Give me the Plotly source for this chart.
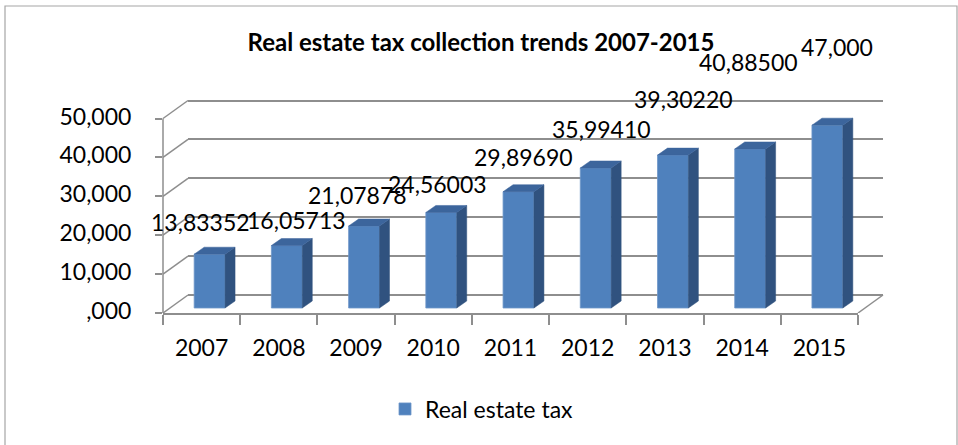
import plotly.graph_objects as go

# ---- data ----
years = ["2007", "2008", "2009", "2010", "2011", "2012", "2013", "2014", "2015"]
tax_collected = [13.83352, 16.05713, 21.07878, 24.56003, 29.89690,
                 35.99410, 39.30220, 40.88500, 47.000]
label_decimals = [5, 5, 5, 5, 5, 5, 5, 5, 3]
axis_ticks = [0, 10, 20, 30, 40, 50]
axis_tick_text = [",000", "10,000", "20,000", "30,000", "40,000", "50,000"]
series_name = "Real estate tax"
chart_title = "Real estate tax collection trends 2007-2015"


def decimal_comma(value, decimals):
    return f"{value:.{decimals}f}".replace(".", ",")


# ---- pseudo-3D geometry (pixels) ----
W, H = 958, 445
FRONT_X0, FRONT_X1, FRONT_BASE = 163, 858, 313
UNIT_PX = 3.89              # pixels per value unit
Y_TOP = 56
WALL_DX, WALL_DY = 25, 18   # back wall offset from the front plane
BAR_DX, BAR_DY = 8, 5       # bar plane offset from the front plane
FACE_DX, FACE_DY = 10, 7    # depth of each column
BAR_WIDTH = 0.40

# value-label nudges (px right, px up) from each column top
LABEL_SHIFTS = [(-9, 32), (10, 26), (-7, 31), (-4, 28), (5, 35),
                (6, 39), (11, 56), (-2, 87), (10, 78)]

FONT = "Lato"
GRID = "#8e8e8e"
FRONT_COLOR = "#4f81bd"
SIDE_COLOR = "#30527f"
TOP_COLOR = "#3c659c"

n = len(years)
cat_px = (FRONT_X1 - FRONT_X0) / n


def xdom(shift):
    return [(FRONT_X0 + shift) / W, (FRONT_X1 + shift) / W]


def ydom(lift, y_min):
    base = FRONT_BASE - lift
    return [1 - (base - y_min * UNIT_PX) / H, 1 - (base - Y_TOP * UNIT_PX) / H]


fig = go.Figure()

# front plane: category axis + value axis labels
fig.add_trace(go.Scatter(
    x=years, y=tax_collected, mode="markers", marker=dict(opacity=0),
    showlegend=False, hoverinfo="skip", xaxis="x", yaxis="y"))

# back wall plane carries the gridlines (x2/y2)
fig.add_trace(go.Scatter(
    x=[0], y=[0], mode="markers", marker=dict(opacity=0),
    showlegend=False, hoverinfo="skip", xaxis="x2", yaxis="y2"))

# bar plane (x3/y3)
idx = list(range(n))
fdx = FACE_DX / cat_px
fdy = FACE_DY / UNIT_PX
side_x, side_y, top_x, top_y = [], [], [], []
for i, v in zip(idx, tax_collected):
    l, r = i - BAR_WIDTH / 2, i + BAR_WIDTH / 2
    side_x += [r, r + fdx, r + fdx, r, r, None]
    side_y += [0, fdy, v + fdy, v, 0, None]
    top_x += [l, r, r + fdx, l + fdx, l, None]
    top_y += [v, v, v + fdy, v + fdy, v, None]

fig.add_trace(go.Bar(
    x=idx, y=tax_collected, width=BAR_WIDTH, name=series_name,
    marker=dict(color=FRONT_COLOR, line=dict(color="#6f97c9", width=0.8)),
    xaxis="x3", yaxis="y3", hoverinfo="skip"))
fig.add_trace(go.Scatter(
    x=side_x, y=side_y, mode="lines", fill="toself", fillcolor=SIDE_COLOR,
    line=dict(color=SIDE_COLOR, width=0.5), showlegend=False,
    hoverinfo="skip", xaxis="x3", yaxis="y3"))
fig.add_trace(go.Scatter(
    x=top_x, y=top_y, mode="lines", fill="toself", fillcolor=TOP_COLOR,
    line=dict(color=TOP_COLOR, width=0.5), showlegend=False,
    hoverinfo="skip", xaxis="x3", yaxis="y3"))

# value labels
for i, (v, d, (sx, sy)) in enumerate(zip(tax_collected, label_decimals, LABEL_SHIFTS)):
    fig.add_annotation(
        x=i, y=v, xref="x3", yref="y3", text=decimal_comma(v, d),
        showarrow=False, xanchor="center", yanchor="middle",
        xshift=sx, yshift=sy, font=dict(family=FONT, size=23, color="#000"))

# wall / floor edges
shapes = [dict(type="line", xref="x domain", yref="y", x0=0, x1=0,
               y0=axis_ticks[0], y1=axis_ticks[-1],
               line=dict(color=GRID, width=1.5))]
wall_fx = WALL_DX / (FRONT_X1 - FRONT_X0)
wall_fy = WALL_DY / UNIT_PX
for t in axis_ticks:
    shapes.append(dict(type="line", xref="x domain", yref="y",
                       x0=0, x1=wall_fx, y0=t, y1=t + wall_fy,
                       line=dict(color=GRID, width=1.5)))
shapes.append(dict(type="line", xref="x domain", yref="y",
                   x0=1, x1=1 + wall_fx, y0=0, y1=wall_fy,
                   line=dict(color=GRID, width=1.5)))
shapes.append(dict(type="rect", xref="paper", yref="paper",
                   x0=5 / W, x1=957 / W, y0=-0.02, y1=1 - 6 / H,
                   line=dict(color="#a6a6a6", width=1.2)))

tick_font = dict(family=FONT, size=23, color="#000")

fig.update_layout(
    width=W, height=H,
    margin=dict(l=0, r=0, t=0, b=0, autoexpand=False),
    paper_bgcolor="white", plot_bgcolor="rgba(0,0,0,0)",
    hovermode=False,
    shapes=shapes,
    title=dict(text=f"<b>{chart_title}</b>", x=481 / W, xanchor="center",
               y=1 - 43 / H, yanchor="middle",
               font=dict(family=FONT, size=24, color="#000")),
    showlegend=True,
    legend=dict(orientation="h", x=385 / W, xanchor="left",
                y=1 - 409 / H, yanchor="middle",
                font=dict(family=FONT, size=23, color="#000"),
                bgcolor="rgba(0,0,0,0)"),
    xaxis=dict(type="category", categoryorder="array", categoryarray=years,
               range=[-0.5, n - 0.5], domain=xdom(0), anchor="y",
               showline=True, linecolor=GRID, linewidth=1.5,
               ticks="outside", tickson="boundaries", ticklen=10,
               tickcolor=GRID, tickwidth=1.5, ticklabelstandoff=14,
               showgrid=False, zeroline=False, tickfont=tick_font),
    yaxis=dict(range=[0, Y_TOP], domain=ydom(0, 0), anchor="x",
               tickvals=axis_ticks, ticktext=axis_tick_text,
               ticks="outside", ticklen=7, tickcolor=GRID, tickwidth=1.5,
               ticklabelstandoff=19, ticklabelshift=-2,
               showline=False, showgrid=False, zeroline=False,
               tickfont=tick_font),
    xaxis2=dict(range=[-0.5, n - 0.5], domain=xdom(WALL_DX), anchor="y2",
                visible=False),
    yaxis2=dict(range=[-1, Y_TOP], domain=ydom(WALL_DY, -1), anchor="x2",
                tickvals=axis_ticks, showticklabels=False, ticks="",
                showgrid=True, gridcolor=GRID, gridwidth=1.5,
                zeroline=False, showline=False),
    xaxis3=dict(range=[-0.5, n - 0.5], domain=xdom(BAR_DX), anchor="y3",
                visible=False),
    yaxis3=dict(range=[-1, Y_TOP], domain=ydom(BAR_DY, -1), anchor="x3",
                visible=False),
)

fig.write_html("out.html")
